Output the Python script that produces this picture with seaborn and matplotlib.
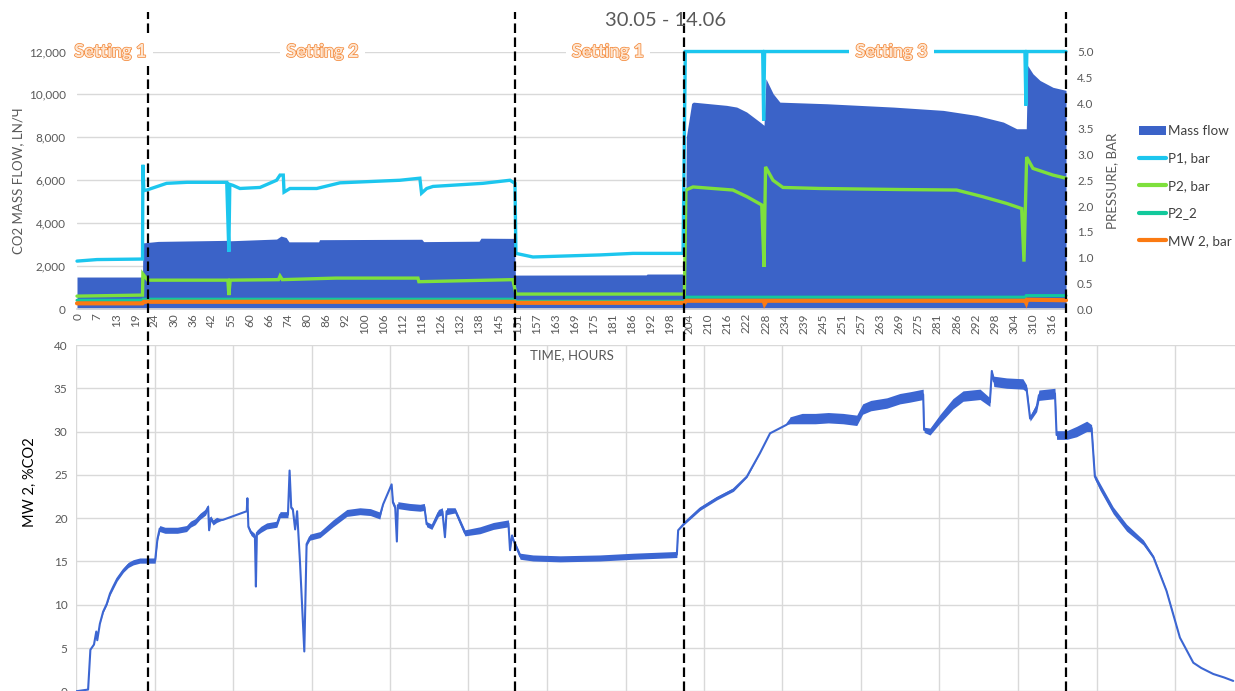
import matplotlib
matplotlib.use("Agg")
import matplotlib.pyplot as plt
import matplotlib.patheffects as pe
from matplotlib.patches import Patch
from matplotlib.lines import Line2D
import numpy as np
import seaborn as sns

# ---------------- upper panel: mass flow and pressures ----------------
# category tick labels (hours), one per tick slot
hour_labels = ["0", "7", "13", "19", "24", "30", "36", "42", "55", "60", "66", "74",
               "80", "86", "92", "100", "106", "112", "118", "126", "132", "138",
               "145", "151", "157", "163", "169", "175", "181", "186", "192", "198",
               "204", "210", "216", "222", "228", "234", "239", "245", "251", "257",
               "263", "269", "275", "281", "286", "292", "298", "304", "310", "316"]

# CO2 mass flow, LN/h (x in tick-slot units)
flow_pos = [-0.05, 3.38, 3.40, 4.2, 7.9, 8.0, 10.4, 10.63, 10.9, 11.05, 12.6, 12.65,
            18.0, 18.1, 21.0, 21.1, 22.85, 22.9, 29.75, 29.8, 31.8, 31.85, 32.13,
            32.22, 33.96, 34.49, 35.01, 35.71, 35.92, 36.02, 36.4, 36.75, 39.2,
            42.69, 45.3, 47.05, 48.45, 49.15, 49.65, 49.72, 50.0, 50.37, 51.05, 51.73]
flow_val = [1490, 1490, 3080, 3150, 3200, 3180, 3260, 3400, 3330, 3130, 3130, 3230,
            3250, 3140, 3160, 3300, 3290, 1580, 1590, 1630, 1630, 8000, 9580,
            9640, 9490, 9410, 9180, 8710, 8560, 10730, 10030, 9640, 9565,
            9410, 9256, 9020, 8710, 8400, 8400, 11350, 10960, 10650, 10330, 10190]

# P1, bar
p1_pos = [-0.05, 1.0, 3.38, 3.40, 3.45, 3.60, 4.64, 5.71, 7.79, 7.90, 7.95, 8.12,
          8.48, 9.53, 10.40, 10.58, 10.75, 10.79, 11.1, 12.5, 13.72, 16.86, 17.9,
          17.99, 18.26, 18.59, 21.2, 22.62, 22.88, 22.93, 23.82, 27.33, 29.06,
          31.68, 31.80, 35.85, 35.90, 35.95, 49.58, 49.63, 49.68, 51.73]
p1_val = [0.93, 0.96, 0.97, 2.80, 2.30, 2.31, 2.44, 2.46, 2.46, 1.11, 2.42, 2.40,
          2.34, 2.36, 2.50, 2.60, 2.60, 2.27, 2.34, 2.34, 2.45, 2.50, 2.54,
          2.25, 2.34, 2.38, 2.44, 2.50, 2.44, 1.08, 1.01, 1.05, 1.08,
          1.08, 5.0, 5.0, 3.66, 5.0, 5.0, 3.95, 5.0, 5.0]

# P2, bar
p2_pos = [-0.05, 3.38, 3.40, 3.65, 7.85, 7.90, 7.97, 10.5, 10.58, 10.7, 13.5, 17.8,
          17.85, 22.77, 22.93, 31.75, 31.83, 32.2, 34.29, 35.03, 35.8, 35.92, 36.0,
          36.39, 36.91, 38.85, 43.0, 46.0, 47.38, 48.62, 49.41, 49.53, 49.67, 50.0,
          51.05, 51.73]
p2_val = [0.25, 0.27, 0.68, 0.56, 0.56, 0.27, 0.56, 0.57, 0.64, 0.57, 0.60, 0.60,
          0.53, 0.57, 0.29, 0.29, 2.31, 2.37, 2.31, 2.18, 2.02, 0.82, 2.76,
          2.50, 2.36, 2.34, 2.32, 2.31, 2.18, 2.05, 1.95, 0.92, 2.95, 2.73,
          2.60, 2.54]

# P2_2
p22_pos = [-0.05, 3.38, 3.42, 22.85, 22.93, 31.75, 31.85, 49.60, 49.65, 51.73]
p22_val = [0.17, 0.17, 0.19, 0.19, 0.15, 0.15, 0.23, 0.23, 0.26, 0.26]

# MW 2, bar
mw_pos = [-0.05, 3.38, 3.45, 22.85, 22.95, 31.75, 31.85, 35.9, 35.95, 36.05,
          49.6, 49.65, 49.7, 51.73]
mw_val = [0.11, 0.11, 0.14, 0.14, 0.12, 0.12, 0.16, 0.16, 0.10, 0.16,
          0.16, 0.12, 0.18, 0.17]

setting_names = ["Setting 1", "Setting 2", "Setting 1", "Setting 3"]
setting_label_pos = [1.7, 12.8, 27.75, 42.6]
setting_bounds = [3.66, 22.88, 31.73, 51.73]

# ---------------- lower panel: MW 2 CO2 concentration ----------------
# hours, %CO2 (trend) and the half-height of the signal noise around it
co2_hours = [0.0, 3.7, 4.4, 5.5, 6.2, 6.5, 7.3, 8.3, 9.4, 10.4,
             11.4, 12.6, 14.5, 16.0, 17.5, 19.5, 21.6, 23.5, 24.2, 24.9,
             25.6, 27.2, 29.7, 31.0, 33.8, 35.0, 36.5, 37.9, 39.6, 40.4,
             40.7, 41.2, 41.9, 43.0, 44.9, 52.2, 52.4, 52.7, 53.5, 54.7,
             55.0, 55.3, 56.5, 58.3, 61.4, 62.4, 64.8, 65.3, 65.8, 66.3,
             67.0, 67.6, 68.5, 69.8, 70.5, 71.5, 74.6, 78.6, 82.8, 86.8,
             90.0, 92.9, 93.9, 96.5, 96.9, 97.6, 98.1, 98.4, 102.0, 105.2,
             106.5, 107.2, 108.8, 110.8, 112.0, 112.8, 113.3, 115.9, 118.9, 123.5,
             127.6, 132.2, 132.7, 133.3, 133.7, 135.8, 139.7, 148.0, 160.2, 170.3,
             183.7, 184.1, 186.2, 190.8, 195.9, 201.0, 205.1, 209.1, 212.2, 217.3,
             218.3, 222.0, 226.0, 230.0, 234.5, 238.7, 240.5, 243.0, 247.9, 251.9,
             255.0, 259.0, 259.3, 261.1, 264.2, 268.1, 271.2, 276.4, 279.4, 280.0,
             280.6, 284.5, 289.5, 290.6, 291.7, 293.7, 294.4, 299.3, 299.8, 302.9,
             305.9, 309.0, 310.5, 311.5, 313.1, 317.1, 321.2, 326.3, 329.4, 333.4,
             337.5, 341.6, 344.0, 347.7, 351.0, 353.8]
co2_pct = [0.0, 0.2, 4.8, 5.4, 6.9, 5.9, 7.8, 9.2, 10.1, 11.3,
           12.1, 13.0, 14.0, 14.6, 14.9, 15.1, 15.1, 15.1, 15.1, 17.6,
           18.8, 18.6, 18.6, 18.6, 18.8, 19.3, 19.6, 20.2, 20.7, 21.3,
           18.6, 20.0, 19.5, 19.8, 19.8, 20.8, 22.3, 19.0, 18.3, 17.9,
           12.1, 18.3, 18.7, 19.1, 19.3, 20.4, 20.4, 25.5, 21.2, 21.0,
           18.7, 20.8, 14.8, 4.6, 17.0, 17.8, 18.1, 19.4, 20.6, 20.8,
           20.7, 20.3, 21.6, 23.9, 21.8, 21.2, 17.3, 21.5, 21.3, 21.2,
           21.3, 19.3, 19.0, 20.6, 20.8, 17.8, 20.8, 20.9, 18.3, 18.6,
           19.1, 19.4, 16.3, 18.0, 17.5, 15.6, 15.4, 15.3, 15.4, 15.6,
           15.8, 18.6, 19.5, 21.1, 22.3, 23.3, 24.8, 27.5, 29.8, 30.8,
           31.3, 31.5, 31.5, 31.6, 31.5, 31.3, 32.6, 33.0, 33.3, 33.8,
           34.0, 34.3, 30.2, 30.0, 31.5, 33.2, 34.1, 34.3, 33.4, 37.0,
           35.8, 35.6, 35.5, 35.0, 31.5, 32.8, 34.2, 34.4, 29.6, 29.6,
           30.0, 30.6, 30.4, 24.8, 23.6, 20.9, 18.9, 17.2, 15.5, 11.6,
           6.2, 3.3, 2.7, 2.0, 1.6, 1.2]
co2_noise = [0, 0, 0, 0, 0, 0, 0, 0.1, 0.15, 0.2,
             0.25, 0.25, 0.25, 0.3, 0.3, 0.3, 0.3, 0.3, 0.3, 0.2,
             0.35, 0.35, 0.35, 0.35, 0.35, 0.35, 0.35, 0.35, 0.35, 0.3,
             0, 0.3, 0.3, 0.3, 0, 0, 0, 0.2, 0.3, 0.3,
             0, 0.3, 0.35, 0.35, 0.35, 0.35, 0.35, 0, 0.2, 0.2,
             0, 0, 0, 0, 0.2, 0.35, 0.35, 0.4, 0.4, 0.4,
             0.4, 0.4, 0, 0, 0.3, 0.3, 0, 0.4, 0.4, 0.4,
             0.4, 0.3, 0.3, 0.4, 0.4, 0, 0.4, 0.3, 0.35, 0.4,
             0.4, 0.4, 0, 0.2, 0.2, 0.35, 0.35, 0.35, 0.35, 0.35,
             0.35, 0, 0.15, 0.2, 0.2, 0.2, 0.1, 0, 0, 0,
             0.4, 0.6, 0.6, 0.6, 0.6, 0.6, 0.6, 0.6, 0.6, 0.6,
             0.6, 0.6, 0.3, 0.4, 0.5, 0.6, 0.6, 0.6, 0.5, 0,
             0.6, 0.6, 0.6, 0.4, 0.3, 0.5, 0.6, 0.6, 0.5, 0.5,
             0.6, 0.6, 0.4, 0.3, 0.4, 0.4, 0.4, 0.3, 0.2, 0.1,
             0, 0, 0, 0, 0, 0]

# ---------------- styling ----------------
sns.set_theme(style="white")
plt.rcParams["font.family"] = ["Lato", "DejaVu Sans"]

GRAY_TXT = "#595959"
GRID = "#D9D9D9"
C_FLOW = "#3B63C8"
C_P1 = "#1CC6EE"
C_P2 = "#7EE03C"
C_P22 = "#12C99C"
C_MW = "#FB7A12"
C_CO2 = "#3C66D2"

W, H = 1235, 691
fig = plt.figure(figsize=(W / 100, H / 100), dpi=100)

# lower panel (created first so the upper panel's overlays draw on top)
ax2 = fig.add_axes([76 / W, -0.3 / H, (W - 76) / W, 346.3 / H])
co2_arr = np.array(co2_pct)
noise_arr = np.array(co2_noise)
ax2.fill_between(co2_hours, co2_arr - noise_arr, co2_arr + noise_arr,
                 color=C_CO2, linewidth=0, zorder=2)
sns.lineplot(x=co2_hours, y=co2_pct, ax=ax2, color=C_CO2, linewidth=1.5,
             estimator=None, sort=False, legend=False, zorder=3)
ax2.set_xlim(0, (W - 76) / 78.5 * 24)
ax2.set_ylim(0, 40)
ax2.set_xticks(np.arange(0, 355, 24))
ax2.set_xticklabels([])
ax2.set_yticks(np.arange(0, 41, 5))
ax2.grid(True, color=GRID, linewidth=1.0)
ax2.set_axisbelow(True)
for s in ax2.spines.values():
    s.set_visible(False)
ax2.tick_params(axis="both", length=0, labelsize=8.5, colors=GRAY_TXT, pad=6)
ax2.set_ylabel("MW 2, %CO2", fontsize=10.5, color="black")
ax2.yaxis.set_label_coords(-0.0397, 0.604)
ax2.yaxis.label.set_va("center")
ax2.set_xlabel("")

# upper panel
ax1 = fig.add_axes([77 / W, (H - 309) / H, 989 / W, 257.5 / H])
ax1r = ax1.twinx()

ax1.fill_between(flow_pos, flow_val, 0, color=C_FLOW, linewidth=0, zorder=2)
ax1.set_xlim(-0.05, 51.73)
ax1.set_ylim(0, 12000)
ax1.set_yticks(np.arange(0, 12001, 2000))
ax1.set_yticklabels([f"{v:,.0f}" for v in np.arange(0, 12001, 2000)])
ax1.yaxis.grid(True, color=GRID, linewidth=1.0)
ax1.set_axisbelow(True)
ax1.set_xticks(np.arange(len(hour_labels)))
ax1.set_xticklabels(hour_labels, rotation=90)
ax1.tick_params(axis="both", length=0, labelsize=8.5, colors=GRAY_TXT)
ax1.tick_params(axis="x", pad=3, labelsize=8.5)
ax1.tick_params(axis="y", pad=8)
for k, s in ax1.spines.items():
    s.set_visible(k == "bottom")
ax1.spines["bottom"].set_color(GRID)
ax1.set_ylabel("CO2 MASS FLOW, LN/Ч", fontsize=9.5, color=GRAY_TXT)
ax1.yaxis.set_label_coords(-0.0597, 0.497)
ax1.yaxis.label.set_va("center")
ax1.set_xlabel("TIME, HOURS", fontsize=9.5, color=GRAY_TXT)
ax1.xaxis.set_label_coords(0.5, -0.1786)
ax1.xaxis.label.set_va("center")

series = [(p22_pos, p22_val, C_P22, 2.2), (p2_pos, p2_val, C_P2, 2.4),
          (p1_pos, p1_val, C_P1, 2.4), (mw_pos, mw_val, C_MW, 3.0)]
for xs, ys, col, lw in series:
    sns.lineplot(x=xs, y=ys, ax=ax1r, color=col, linewidth=lw,
                 estimator=None, sort=False, legend=False)
    ax1r.lines[-1].set_clip_on(False)
    ax1r.lines[-1].set_solid_joinstyle("miter")
ax1r.set_ylim(0, 5)
ax1r.set_yticks(np.arange(0, 5.01, 0.5))
ax1r.set_yticklabels([f"{v:.1f}" for v in np.arange(0, 5.01, 0.5)])
ax1r.tick_params(axis="y", length=0, labelsize=8.5, colors=GRAY_TXT, pad=8)
for s in ax1r.spines.values():
    s.set_visible(False)
ax1r.set_ylabel("PRESSURE, BAR", fontsize=9.5, color=GRAY_TXT)
ax1r.yaxis.set_label_coords(1.0465, 0.497)
ax1r.yaxis.label.set_va("center")
ax1r.grid(False)

# setting boundaries across both panels
for b in setting_bounds:
    ax1r.axvline(b, ymin=-1.485, ymax=1.155, color="black", linewidth=1.6,
                 linestyle=(0, (4.3, 2.0)), clip_on=False, zorder=8)

# setting names on the top gridline
for name, xp in zip(setting_names, setting_label_pos):
    t = ax1r.text(xp, 5.0, name, ha="center", va="center", fontsize=13,
                  fontweight="bold", color="#FDE6D2", zorder=10, clip_on=False,
                  bbox=dict(boxstyle="square,pad=0.35", facecolor="white",
                            edgecolor="none"))
    t.set_path_effects([pe.Stroke(linewidth=1.1, foreground="#F4893A"), pe.Normal()])

fig.text(666 / W, 1 - 20 / H, "30.05 - 14.06", ha="center", va="center",
         fontsize=14.5, color=GRAY_TXT)

handles = [Patch(facecolor=C_FLOW, edgecolor="none"),
           Line2D([], [], color=C_P1, linewidth=3),
           Line2D([], [], color=C_P2, linewidth=3),
           Line2D([], [], color=C_P22, linewidth=3),
           Line2D([], [], color=C_MW, linewidth=3)]
labels = ["Mass flow", "P1, bar", "P2, bar", "P2_2", "MW 2, bar"]
leg = fig.legend(handles, labels, loc="upper left",
                 bbox_to_anchor=(1139 / W, 1 - 125 / H), frameon=False,
                 borderaxespad=0, borderpad=0, fontsize=9.7, handlelength=2.0,
                 handleheight=0.6, handletextpad=0.15, labelspacing=1.15)
for txt in leg.get_texts():
    txt.set_color("#404040")

fig.savefig("out.png", dpi=100)
